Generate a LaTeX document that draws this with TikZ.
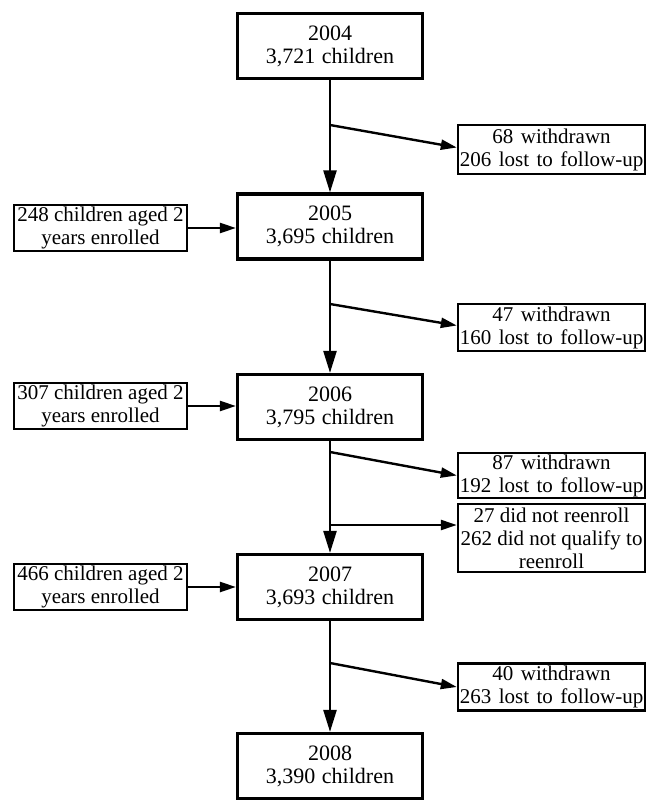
\documentclass[tikz,border=0pt]{standalone}
\usepackage{fontspec}
\setmainfont{Liberation Serif}
\usetikzlibrary{arrows.meta}
\newcommand{\widespacing}{\spaceskip=7.5pt plus 1pt minus 1pt\relax}
\newcommand{\mainspacing}{\spaceskip=6.5pt plus 1pt minus 1pt\relax}
\begin{document}
\begin{tikzpicture}[x=1pt,y=-1pt,
  txt/.style={font=\fontsize{21}{23}\selectfont, align=center, inner sep=0pt},
  bigtxt/.style={font=\fontsize{22}{23}\selectfont\mainspacing, align=center, inner sep=0pt},
  widetxt/.style={font=\fontsize{21}{23}\selectfont\widespacing, align=center, inner sep=0pt},
  mainbox/.style={bigtxt, draw, line width=3.2pt, minimum width=185pt, minimum height=65pt},
  leftbox/.style={txt, draw, line width=2.4pt, minimum width=173pt, minimum height=46pt},
  rightbox/.style={widetxt, draw, line width=2.4pt, minimum width=187pt, minimum height=47pt},
  flow/.style={line width=2.4pt, -{Triangle[length=22pt,width=13pt]}},
  side/.style={line width=2.4pt, -{Triangle[length=16pt,width=10pt]}}]
\useasboundingbox (0,0) rectangle (647,800);

% main boxes
\node[mainbox] (b04) at (330,46) {2004\\3,721 children};
\node[mainbox] (b05) at (330,226.5) {2005\\3,695 children};
\node[mainbox] (b06) at (330,407) {2006\\3,795 children};
\node[mainbox] (b07) at (330,587) {2007\\3,693 children};
\node[mainbox] (b08) at (330,766) {2008\\3,390 children};

% left boxes
\node[leftbox] (l05) at (100.5,228) {248 children aged 2\\years enrolled};
\node[leftbox] (l06) at (100.5,406) {307 children aged 2\\years enrolled};
\node[leftbox] (l07) at (100.5,587) {466 children aged 2\\years enrolled};

% right boxes
\node[rightbox, minimum height=49pt] (r1) at (551.5,149.5) {68 withdrawn\\206 lost to follow-up};
\node[rightbox] (r2) at (551.5,327.5) {47 withdrawn\\160 lost to follow-up};
\node[rightbox, minimum height=45pt] (r3) at (551.5,475.5) {87 withdrawn\\192 lost to follow-up};
\node[rightbox, txt, minimum height=68pt] (r4) at (551.5,538) {27 did not reenroll\\262 did not qualify to\\reenroll};
\node[rightbox] (r5) at (551.5,687) {40 withdrawn\\263 lost to follow-up};

% branch points on the main line
\coordinate (s1) at (330,125);
\coordinate (s2) at (330,304);
\coordinate (s3) at (330,452);
\coordinate (s4) at (330,525);
\coordinate (s5) at (330,663);

% main flow
\draw[flow] (b04.south) -- (b05.north);
\draw[flow] (b05.south) -- (b06.north);
\draw[flow] (b06.south) -- (b07.north);
\draw[flow] (b07.south) -- (b08.north);

% exits
\draw[side] (s1) -- ([yshift=2pt]r1.west);
\draw[side] (s2) -- ([yshift=2pt]r2.west);
\draw[side] (s3) -- (r3.west);
\draw[side] (s4) -- (s4 -| r4.west);
\draw[side] (s5) -- (r5.west);

% entries
\draw[side] (l05.east) -- (l05.east -| b05.west);
\draw[side] (l06.east) -- (l06.east -| b06.west);
\draw[side] (l07.east) -- (l07.east -| b07.west);
\end{tikzpicture}
\end{document}
